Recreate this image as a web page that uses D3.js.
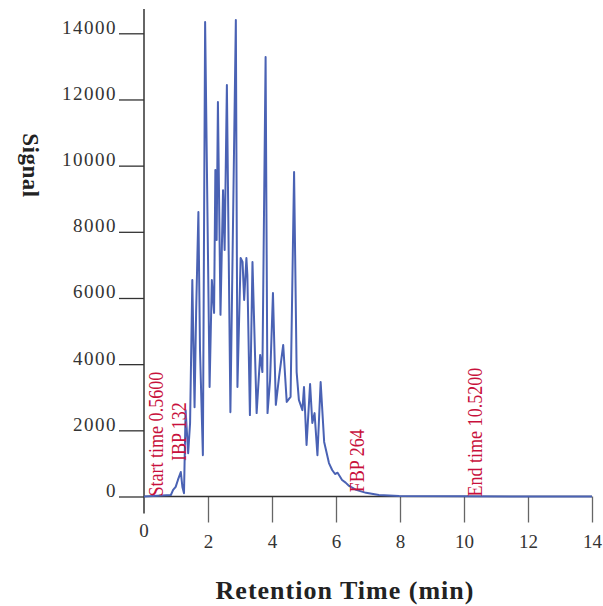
<!DOCTYPE html>
<html>
<head>
<meta charset="utf-8">
<script src="https://cdn.jsdelivr.net/npm/d3@7"></script>
<style>
  body { margin: 0; background: #fff; }
  svg { display: block; }
</style>
</head>
<body>
<div id="chart"></div>
<script>
// Retention time (min) and signal
const times = [0, 0.84, 0.91, 0.99, 1.06, 1.15, 1.20, 1.25, 1.30, 1.38,
    1.44, 1.51, 1.58, 1.63, 1.70, 1.75, 1.84, 1.91, 2.05, 2.12,
    2.19, 2.23, 2.27, 2.31, 2.39, 2.47, 2.52, 2.59, 2.70, 2.87,
    2.92, 3.02, 3.08, 3.13, 3.20, 3.23, 3.31, 3.39, 3.52, 3.63,
    3.70, 3.80, 3.86, 3.94, 4.03, 4.12, 4.22, 4.35, 4.46, 4.58,
    4.69, 4.77, 4.84, 4.95, 5.00, 5.08, 5.19, 5.26, 5.33, 5.42,
    5.52, 5.63, 5.78, 5.88, 5.97, 6.05, 6.19, 6.30, 6.41, 6.63,
    6.94, 7.34, 7.97, 10, 14];
const signal = [0, 45, 200, 290, 500, 740, 290, 100, 2610, 1310,
    2220, 6540, 2700, 5640, 8600, 4430, 1250, 14340, 3310, 6540,
    5550, 9870, 7750, 11920, 5490, 9260, 7450, 12440, 2550, 14400,
    3310, 7210, 7090, 5940, 7210, 6700, 2460, 7090, 2520, 4280,
    3760, 13280, 2520, 3520, 6150, 2770, 3610, 4580, 2860, 3010,
    9810, 3760, 2920, 2610, 3310, 1560, 3400, 2220, 2520, 1250,
    3460, 1650, 1010, 800, 680, 720, 500, 420, 320, 200,
    110, 45, 15, 5, 0];

const yTicks = [0, 2000, 4000, 6000, 8000, 10000, 12000, 14000];
const xTicks = [2, 4, 6, 8, 10, 12, 14];

// red markers: label, time, height (signal units) where the text starts
const markLabels = ["Start time 0.5600", "IBP 132", "FBP 264", "End time 10.5200"];
const markTimes = [0.56, 1.28, 6.83, 10.52];
const markLevels = [0, 1070, 130, 0];

const W = 603, H = 606;
const svg = d3.select("#chart").append("svg")
    .attr("width", W)
    .attr("height", H);

const x = d3.scaleLinear().domain([0, 14]).range([144, 592]);
const y = d3.scaleLinear().domain([0, 14000]).range([496.5, 33.3]);

const tickFont = "'Liberation Serif', 'Times New Roman', serif";

// y axis
const yAxis = svg.append("g")
    .attr("transform", `translate(${x(0)},0)`)
    .call(d3.axisLeft(y).tickValues(yTicks).tickFormat(d3.format("d"))
        .tickSize(25).tickSizeOuter(0).tickPadding(2));
yAxis.select(".domain").remove();
yAxis.selectAll(".tick line").attr("stroke", "#333").attr("stroke-width", 1.3);
yAxis.selectAll(".tick text")
    .attr("dy", "0")
    .attr("fill", "#333")
    .style("font-family", tickFont)
    .style("font-size", "19px")
    .style("letter-spacing", "1.5px");

svg.append("line")
    .attr("x1", x(0)).attr("x2", x(0))
    .attr("y1", y(0) + 17).attr("y2", 9)
    .attr("stroke", "#333")
    .attr("stroke-width", 1.5);

// x axis
const xAxis = svg.append("g")
    .attr("transform", `translate(0,${y(0)})`)
    .call(d3.axisBottom(x).tickValues(xTicks).tickSize(26).tickSizeOuter(0).tickPadding(12));
xAxis.select(".domain").remove();
xAxis.selectAll(".tick line").attr("stroke", "#666").attr("stroke-width", 1.3);
xAxis.selectAll(".tick text")
    .attr("fill", "#333")
    .style("font-family", tickFont)
    .style("font-size", "19px");

svg.append("line")
    .attr("x1", x(0)).attr("x2", x(14))
    .attr("y1", y(0)).attr("y2", y(0))
    .attr("stroke", "#333")
    .attr("stroke-width", 1.5);

// the "0" under the origin sits higher than the others
svg.append("text")
    .attr("x", x(0))
    .attr("y", y(0) + 40)
    .attr("text-anchor", "middle")
    .attr("fill", "#333")
    .style("font-family", tickFont)
    .style("font-size", "19px")
    .text("0");

// axis titles
svg.append("text")
    .attr("x", 345)
    .attr("y", 599)
    .attr("text-anchor", "middle")
    .attr("fill", "#222")
    .style("font-family", tickFont)
    .style("font-weight", "bold")
    .style("font-size", "26px")
    .style("letter-spacing", "1px")
    .text("Retention Time (min)");

svg.append("text")
    .attr("transform", "translate(23,165.5) rotate(90)")
    .attr("text-anchor", "middle")
    .attr("fill", "#222")
    .style("font-family", tickFont)
    .style("font-weight", "bold")
    .style("font-size", "23px")
    .style("letter-spacing", "0.5px")
    .text("Signal");

// chromatogram
const pts = times.map((t, i) => [t, signal[i]]);
const line = d3.line()
    .x(d => x(d[0]))
    .y(d => y(d[1]));

svg.append("path")
    .datum(pts)
    .attr("d", line)
    .attr("fill", "none")
    .attr("stroke", "#4a62b4")
    .attr("stroke-width", 2)
    .attr("stroke-linejoin", "round");

// red annotations
markLabels.forEach((label, i) => {
    svg.append("text")
        .attr("transform", `translate(${x(markTimes[i]) + 1.5},${y(markLevels[i])}) rotate(-90) scale(0.82,1)`)
        .attr("fill", "#c8103c")
        .style("font-family", tickFont)
        .style("font-size", "22px")
        .text(label);
});
</script>
</body>
</html>
